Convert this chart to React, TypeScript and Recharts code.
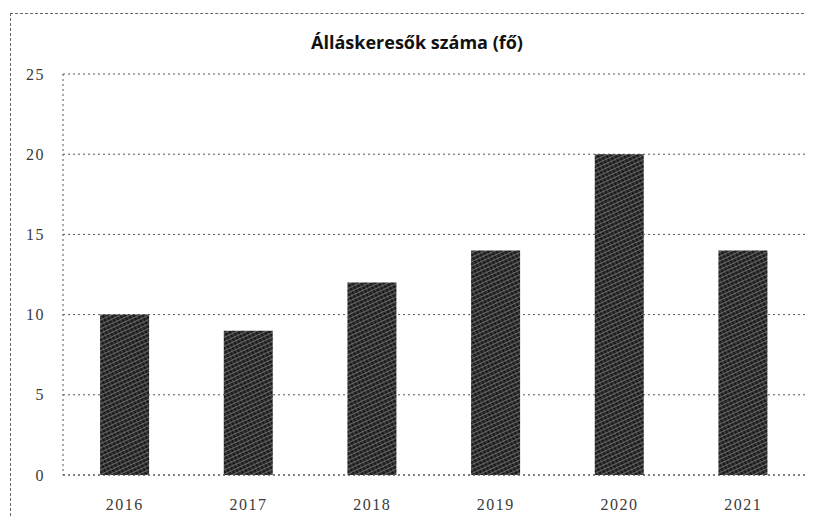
import { BarChart, Bar, XAxis, YAxis, CartesianGrid } from "recharts";

const years = ["2016", "2017", "2018", "2019", "2020", "2021"];
const jobSeekers = [10, 9, 12, 14, 20, 14];
const yTicks = [0, 5, 10, 15, 20, 25];

const data = years.map((year, i) => ({ year, value: jobSeekers[i] }));

const tickStyle = { fill: "#3a3a3a", fontSize: 16, fontFamily: "Liberation Serif", letterSpacing: 1.5 };

export default function App() {
  return (
    <div style={{ position: "relative", margin: -8, width: 814, height: 526, background: "#fff" }}>
      <div
        style={{
          position: "absolute",
          left: 10,
          top: 13,
          right: 0,
          bottom: 0,
          borderTop: "1px dashed #666",
          borderLeft: "1px dashed #666",
        }}
      />
      <div
        style={{
          position: "absolute",
          left: 10,
          width: 814,
          top: 30,
          textAlign: "center",
          fontFamily: "Open Sans",
          fontWeight: 700,
          fontSize: 18,
          color: "#111",
        }}
      >
        Álláskeresők száma (fő)
      </div>
      <BarChart
        width={814}
        height={526}
        data={data}
        margin={{ top: 74, right: 9, left: 13, bottom: 0 }}
        barCategoryGap="30%"
        style={{ position: "absolute", left: 0, top: 0 }}
      >
        <defs>
          <pattern id="hatch" width="4" height="4" patternUnits="userSpaceOnUse" patternTransform="rotate(65)">
            <rect width="4" height="4" fill="#1a1a1a" />
            <line x1="0" y1="0" x2="0" y2="4" stroke="#c8c8c8" strokeWidth="0.9" />
            <line x1="0" y1="2" x2="4" y2="2" stroke="#777" strokeWidth="0.6" />
          </pattern>
        </defs>
        <CartesianGrid vertical={false} stroke="#555" strokeDasharray="2 3" />
        <XAxis
          dataKey="year"
          height={51}
          tickLine={false}
          tickMargin={18}
          axisLine={{ stroke: "#555", strokeDasharray: "2 3" }}
          tick={tickStyle}
        />
        <YAxis
          width={50}
          domain={[0, 25]}
          ticks={yTicks}
          tickLine={false}
          tickMargin={12}
          axisLine={{ stroke: "#555", strokeDasharray: "2 3" }}
          tick={tickStyle}
        />
        <Bar dataKey="value" fill="url(#hatch)" isAnimationActive={false} />
      </BarChart>
    </div>
  );
}
